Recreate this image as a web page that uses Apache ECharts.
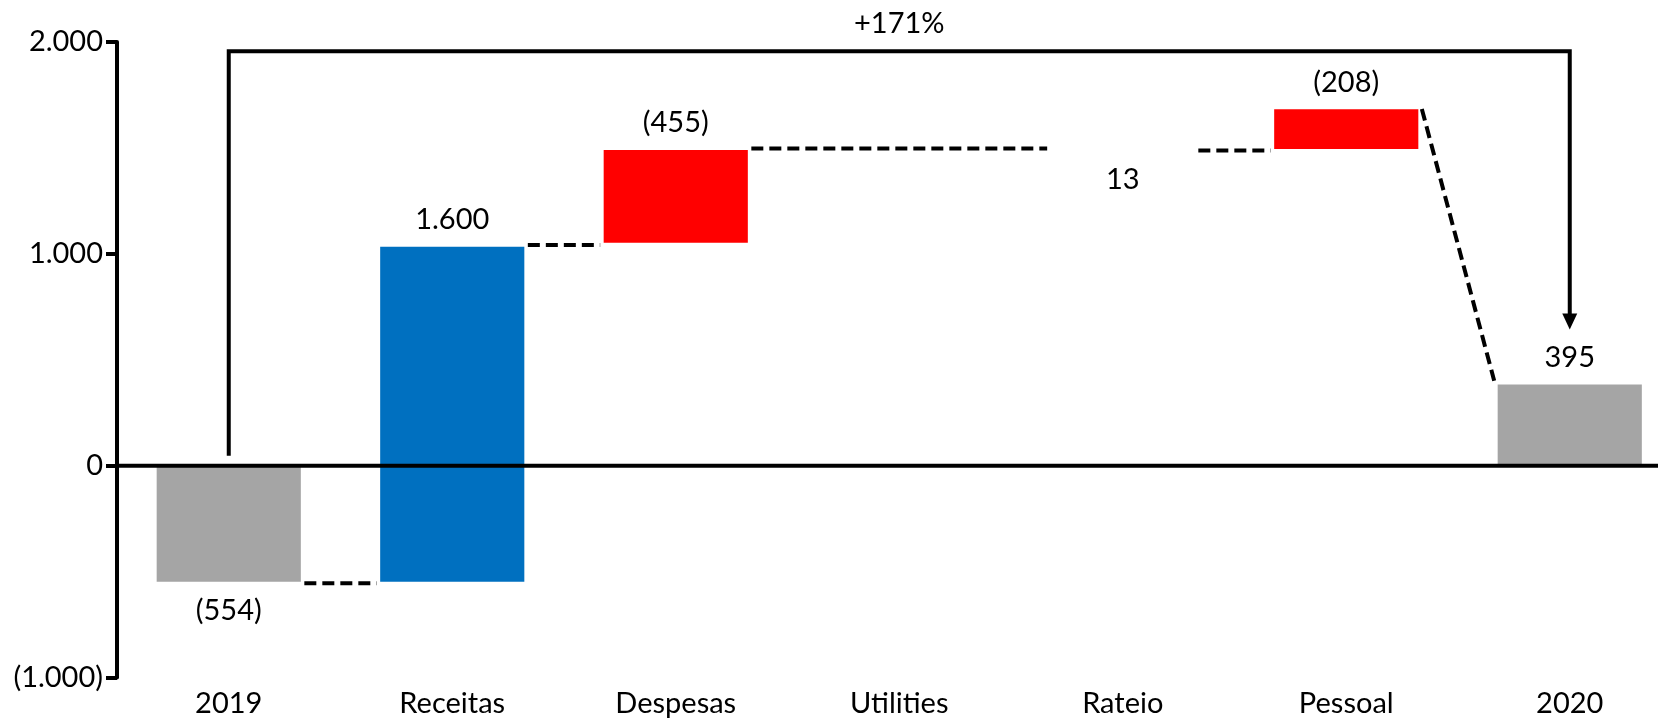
<!DOCTYPE html>
<html>
<head>
<meta charset="utf-8">
<script src="https://cdn.jsdelivr.net/npm/echarts/dist/echarts.min.js"></script>
<style>
  html, body { margin: 0; padding: 0; background: #ffffff; }
  #chart { width: 1658px; height: 721px; }
</style>
</head>
<body>
<div id="chart"></div>
<script>
// ---- data ----
const categories = ['2019', 'Receitas', 'Despesas', 'Utilities', 'Rateio', 'Pessoal', '2020'];
const barLow   = [0, -548, 1052, null, 1488, 1495, 0];
const barHigh  = [-548, 1034, 1490, null, 1497, 1682, 383];
const barLabels = ['(554)', '1.600', '(455)', '', '13', '(208)', '395'];
const barKind   = ['total', 'up', 'down', 'none', 'hidden', 'down', 'total'];
const labelSide = ['below', 'above', 'above', 'none', 'below', 'above', 'above'];

// connectors (dashed): from category, to category, level at start, level at end
const connFrom     = [0, 1, 2, 4, 5];
const connTo       = [1, 2, 4, 5, 6];
const connStartVal = [-555, 1042, 1497, 1488, 1684];
const connEndVal   = [-555, 1042, 1497, 1488, 401];

// bracket 2019 -> 2020
const bracketFrom = 0, bracketTo = 6;
const bracketStartVal = 47, bracketTopVal = 1956, bracketArrowVal = 643;
const bracketLabel = '+171%';

// y axis ticks
const yTickValues = [-1000, 0, 1000, 2000];
const yTickLabels = ['(1.000)', '0', '1.000', '2.000'];

// ---- chart ----
const FONT = 'Lato';
const FS = 29;
const colors = { total: '#A5A5A5', up: '#0070C0', down: '#FF0000' };
const BAR_RATIO = 0.645;
const GAP = 3.5;
const BAND = 223.5;          // px per category
const AXIS_X = 117;          // y-axis line position

const chart = echarts.init(document.getElementById('chart'), null, { renderer: 'canvas' });

const barData = [];
categories.forEach((c, i) => {
  if (barLow[i] !== null && barHigh[i] !== null) barData.push([i, barLow[i], barHigh[i]]);
});
const connData = connFrom.map((f, k) => [f, connTo[k], connStartVal[k], connEndVal[k]]);

function textEl(str, x, y) {
  return {
    type: 'text',
    style: {
      text: str, x: x, y: y,
      align: 'center', verticalAlign: 'middle',
      textAlign: 'center', textVerticalAlign: 'middle',
      font: FS + 'px ' + FONT, fill: '#000'
    }
  };
}

const option = {
  backgroundColor: '#ffffff',
  animation: false,
  grid: { left: AXIS_X + BAND / 2, width: BAND * (categories.length - 1), top: 42, height: 635.5, containLabel: false },
  xAxis: {
    type: 'category',
    data: categories,
    boundaryGap: false,
    axisLine: { show: false, onZero: false },
    axisTick: { show: false },
    axisLabel: { color: '#000', fontFamily: FONT, fontSize: FS, margin: 12, interval: 0 },
    splitLine: { show: false }
  },
  yAxis: {
    type: 'value',
    min: -1000, max: 2000, interval: 1000,
    offset: BAND / 2,
    axisLine: { show: true, onZero: false, lineStyle: { color: '#000', width: 4 } },
    axisTick: { show: true, length: 11, lineStyle: { color: '#000', width: 4 } },
    axisLabel: {
      color: '#000', fontFamily: FONT, fontSize: FS, margin: 14,
      formatter: function (v) {
        const idx = yTickValues.indexOf(v);
        return idx >= 0 ? yTickLabels[idx] : '';
      }
    },
    splitLine: { show: false }
  },
  series: [
    {
      type: 'custom',
      name: 'bars',
      z: 2,
      clip: false,
      encode: { x: 0, y: [1, 2] },
      data: barData,
      renderItem: function (params, api) {
        const i = api.value(0);
        const lo = api.value(1), hi = api.value(2);
        const pLo = api.coord([i, lo]);
        const pHi = api.coord([i, hi]);
        const w = api.size([1, 0])[0] * BAR_RATIO;
        const top = Math.min(pLo[1], pHi[1]);
        const bot = Math.max(pLo[1], pHi[1]);
        const children = [];
        const kind = barKind[i];
        if (kind !== 'hidden' && kind !== 'none') {
          children.push({
            type: 'rect',
            shape: { x: pLo[0] - w / 2, y: top, width: w, height: bot - top },
            style: { fill: colors[kind] }
          });
        }
        if (labelSide[i] === 'above') children.push(textEl(barLabels[i], pLo[0], top - 27));
        else if (labelSide[i] === 'below') children.push(textEl(barLabels[i], pLo[0], bot + 29));
        return { type: 'group', children: children };
      }
    },
    {
      type: 'custom',
      name: 'connectors',
      z: 3,
      clip: false,
      encode: { x: 0, y: 2 },
      data: connData,
      renderItem: function (params, api) {
        const f = api.value(0), t = api.value(1);
        const v1 = api.value(2), v2 = api.value(3);
        const w = api.size([1, 0])[0] * BAR_RATIO;
        const p1 = api.coord([f, v1]);
        const p2 = api.coord([t, v2]);
        return {
          type: 'line',
          shape: { x1: p1[0] + w / 2 + GAP, y1: p1[1], x2: p2[0] - w / 2 - GAP, y2: p2[1] },
          style: { stroke: '#000', lineWidth: 4, lineDash: [12, 6] }
        };
      }
    },
    {
      type: 'custom',
      name: 'bracket',
      z: 4,
      clip: false,
      encode: { x: 0, y: 2 },
      data: [[bracketFrom, bracketTo, bracketStartVal, bracketTopVal, bracketArrowVal]],
      renderItem: function (params, api) {
        const f = api.value(0), t = api.value(1);
        const pS = api.coord([f, api.value(2)]);
        const pT1 = api.coord([f, api.value(3)]);
        const pT2 = api.coord([t, api.value(3)]);
        const pA = api.coord([t, api.value(4)]);
        const cs = params.coordSys;
        const band = api.size([1, 0])[0];
        const z0 = api.coord([0, 0])[1];
        const ah = 16, aw = 7.5;
        return {
          type: 'group',
          children: [
            {
              type: 'line',
              shape: { x1: cs.x - band / 2, y1: z0, x2: cs.x + cs.width + band / 2, y2: z0 },
              style: { stroke: '#000', lineWidth: 4 }
            },
            {
              type: 'polyline',
              shape: { points: [[pS[0], pS[1]], [pT1[0], pT1[1]], [pT2[0], pT2[1]], [pA[0], pA[1] - ah + 1]] },
              style: { stroke: '#000', lineWidth: 4, fill: null, lineJoin: 'miter' }
            },
            {
              type: 'polygon',
              shape: { points: [[pA[0] - aw, pA[1] - ah], [pA[0] + aw, pA[1] - ah], [pA[0], pA[1]]] },
              style: { fill: '#000' }
            },
            textEl(bracketLabel, (pT1[0] + pT2[0]) / 2, pT1[1] - 28)
          ]
        };
      }
    }
  ]
};

chart.setOption(option);
</script>
</body>
</html>
